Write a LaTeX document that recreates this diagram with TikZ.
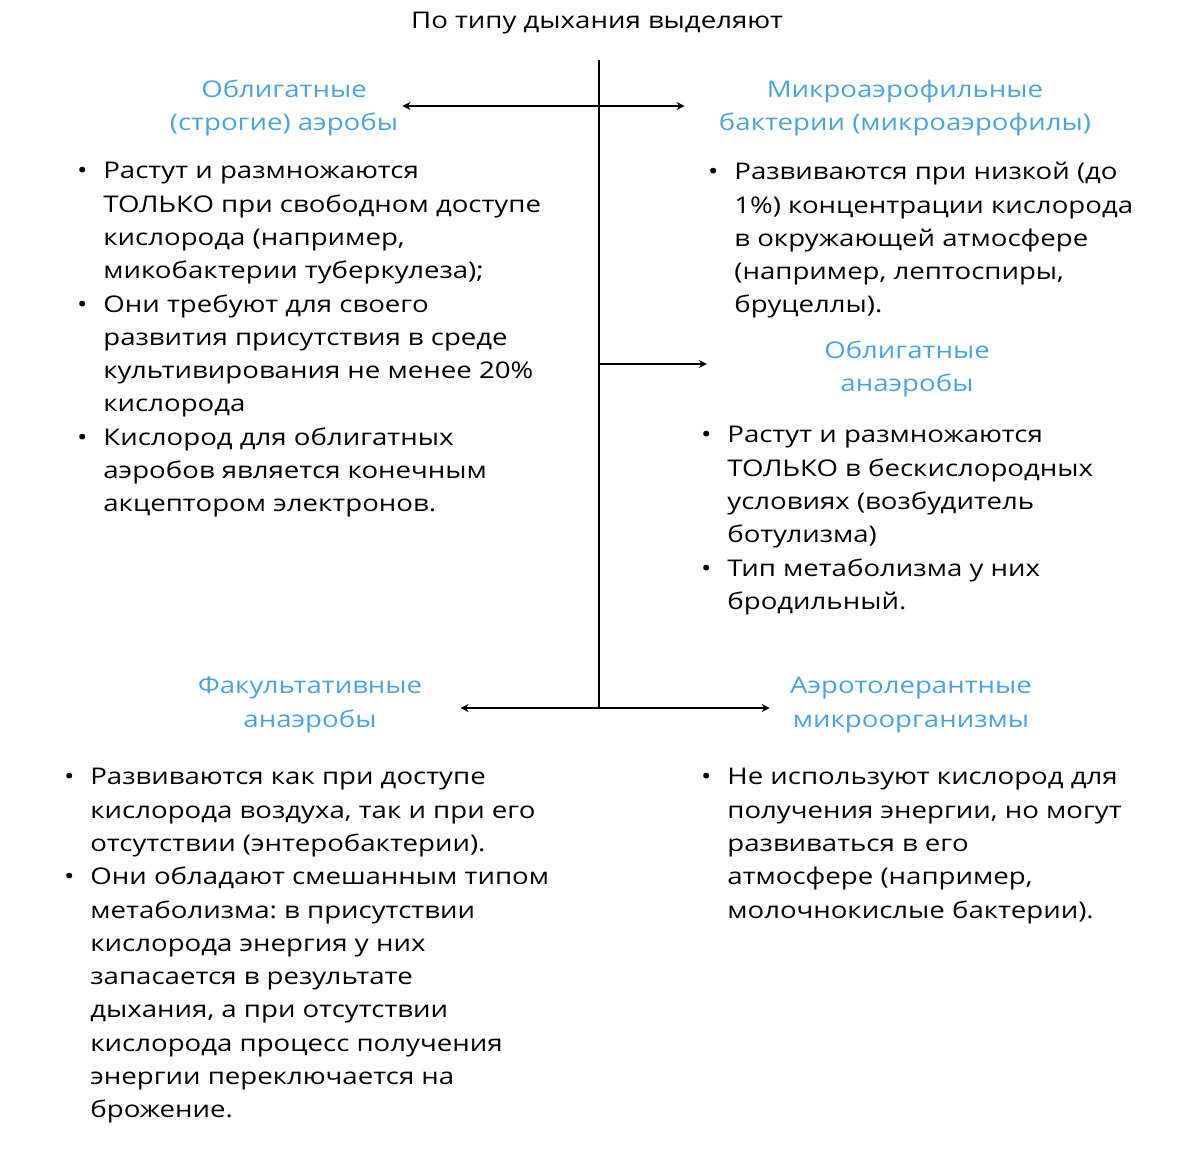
\documentclass[tikz,border=0pt]{standalone}
\usepackage{fontspec}
\setmainfont{Open Sans}[FakeStretch=1.2]
\usetikzlibrary{positioning, arrows.meta, calc}
\frenchspacing

\definecolor{headblue}{RGB}{74,163,221}
\newcommand{\bodyfont}{\fontsize{11.5}{16.65}\selectfont}
\newcommand{\bul}{\llap{\textbullet\hspace{8pt}}}

\begin{document}
\begin{tikzpicture}[
  x=0.5pt, y=-0.5pt,
  font=\bodyfont,
  >={Stealth[length=4pt, width=4pt]},
  % --- node styles ---
  head/.style={
    text=headblue, align=center, inner sep=0pt
  },
  body/.style={
    align=left, anchor=north west, inner sep=0pt
  },
  arr/.style={->, line width=0.9pt},
  spine/.style={line width=1pt},
]
\useasboundingbox (0,0) rectangle (1200,1148);

% title
\node[inner sep=0pt] (title) at (597,23) {По типу дыхания выделяют};

% spine
\coordinate (stop) at (599,60);
\coordinate (sbot) at (599,708);
\draw[spine] (stop) -- (sbot);

% ══════════════════════════════════════════════
% HEADINGS
% ══════════════════════════════════════════════

\node[head] (aer) at (284,108) {Облигатные\\(строгие) аэробы};
\node[head] (micro) at (905,108) {Микроаэрофильные\\бактерии (микроаэрофилы)};
\node[head] (anaer) at (907,369) {Облигатные\\анаэробы};
\node[head] (fac) at (310,705) {Факультативные\\анаэробы};
\node[head] (tol) at (911,705) {Аэротолерантные\\микроорганизмы};

% ══════════════════════════════════════════════
% ARROWS
% ══════════════════════════════════════════════

\coordinate (j1) at (599,106);
\coordinate (j2) at (599,364);
\coordinate (j3) at (599,708);

\draw[arr] (j1) -- ([shift={(4,0)}]aer.east |- j1);
\draw[arr] (j1) -- ([shift={(-34,0)}]micro.west |- j1);
\draw[arr] (j2) -- ([shift={(-117,0)}]anaer.west |- j2);
\draw[arr] (j3) -- ([shift={(38,0)}]fac.east |- j3);
\draw[arr] (j3) -- ([shift={(-20,0)}]tol.west |- j3);

% ══════════════════════════════════════════════
% BODY TEXT
% ══════════════════════════════════════════════

\node[body] (aertxt) at (103,162) {
  \bul Растут и размножаются\\
  ТОЛЬКО при свободном доступе\\
  кислорода (например,\\
  микобактерии туберкулеза);\\
  \bul Они требуют для своего\\
  развития присутствия в среде\\
  культивирования не менее 20\%\\
  кислорода\\
  \bul Кислород для облигатных\\
  аэробов является конечным\\
  акцептором электронов.};

\node[body] (microtxt) at (734,162) {
  \bul Развиваются при низкой (до\\
  1\%) концентрации кислорода\\
  в окружающей атмосфере\\
  (например, лептоспиры,\\
  бруцеллы).};

\node[body] (anaertxt) at (727,426) {
  \bul Растут и размножаются\\
  ТОЛЬКО в бескислородных\\
  условиях (возбудитель\\
  ботулизма)\\
  \bul Тип метаболизма у них\\
  бродильный.};

\node[body] (factxt) at (90,768) {
  \bul Развиваются как при доступе\\
  кислорода воздуха, так и при его\\
  отсутствии (энтеробактерии).\\
  \bul Они обладают смешанным типом\\
  метаболизма: в присутствии\\
  кислорода энергия у них\\
  запасается в результате\\
  дыхания, а при отсутствии\\
  кислорода процесс получения\\
  энергии переключается на\\
  брожение.};

\node[body] (toltxt) at (727,768) {
  \bul Не используют кислород для\\
  получения энергии, но могут\\
  развиваться в его\\
  атмосфере (например,\\
  молочнокислые бактерии).};

\end{tikzpicture}
\end{document}
